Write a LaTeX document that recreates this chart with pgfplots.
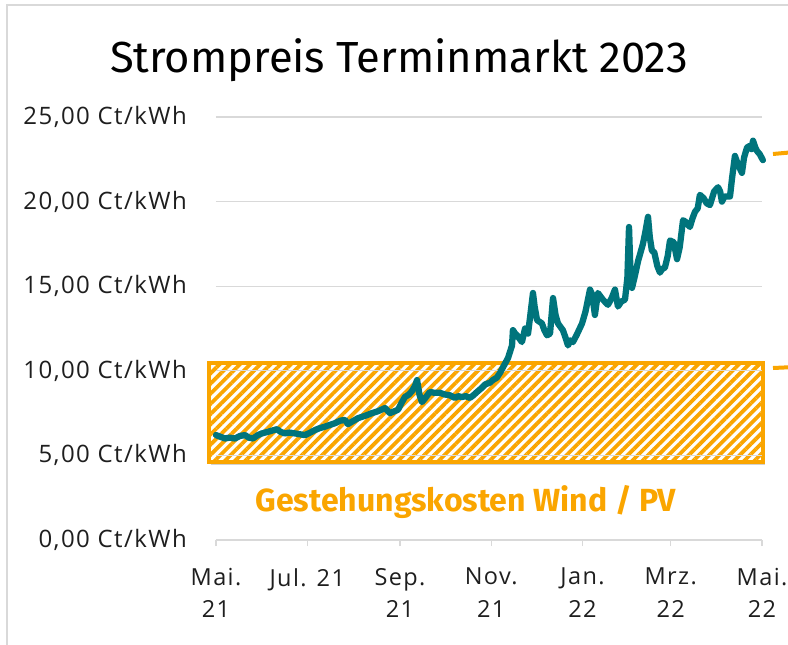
\documentclass[border=0pt]{standalone}
\usepackage{pgfplots}
\pgfplotsset{compat=1.18}
\usepackage{fontspec}
\setmainfont{Open Sans}
\newfontfamily\titlefont{Fira Sans}
\newfontfamily\lblfont[LetterSpace=6]{Open Sans}
\usetikzlibrary{patterns.meta}
\definecolor{gk}{RGB}{250,165,0}
\definecolor{teal1}{RGB}{0,116,124}
\definecolor{gridc}{RGB}{217,217,217}
\definecolor{txt}{RGB}{30,30,30}

\pgfplotstableread{
d v
0 6.2
3 6.1
6 6.0
9 6.05
12.7 6.0
16 6.15
19.4 6.2
22 6.05
24.7 6.0
28 6.2
30.7 6.3
35 6.4
40.8 6.55
43 6.4
46.1 6.3
49 6.35
52.8 6.3
56 6.25
59.5 6.2
63 6.35
66.2 6.5
69 6.6
72.9 6.7
76 6.8
79.5 6.9
83 7.05
86.2 7.1
88.2 6.85
91 7.0
94.9 7.2
100 7.35
104.3 7.5
108 7.6
113 7.8
116.3 7.5
119 7.6
121.7 7.7
124 8.1
126.3 8.45
129 8.6
131 8.8
133 9.1
134.4 9.45
136 8.6
137.7 8.15
140 8.4
143 8.75
146 8.7
149.7 8.7
153 8.6
156.4 8.55
159.8 8.4
162 8.5
164.4 8.45
167 8.5
169.8 8.4
172 8.55
174.5 8.75
177.8 9.0
180 9.2
183.2 9.3
185 9.45
187.8 9.6
190 9.9
191.8 10.2
195.2 10.75
197.9 11.5
198.5 12.4
200 12.2
201.2 12.1
204.5 11.7
206.6 12.5
208.6 12.2
210 13.2
211.9 14.6
213 13.8
214.6 13.0
217.9 12.8
219.5 12.4
221.3 12.1
223.3 12.2
225.3 14.3
227 13.3
228.6 12.8
231.9 12.4
233.5 12.0
235.3 11.5
237 11.8
238.6 11.7
241 12.1
244.7 12.8
247 13.5
250 14.8
251.5 14.5
253.3 13.3
255.3 14.6
258.7 14.2
262 13.9
264.5 14.3
266.7 14.8
268.7 13.8
271 14.1
273.4 14.2
275 15.5
276.1 18.5
277.2 15.5
278.1 14.9
280 15.6
282.2 16.5
283.5 16.9
285.4 17.5
287 18.2
288.8 19.1
290 17.9
291.4 17.1
293 17.0
295 16.2
296.8 15.8
298 16.0
300.1 16.1
302 16.8
303.5 17.7
306 17.6
308.2 16.6
310 17.3
312.2 18.9
314 18.8
316.8 18.5
318.5 19.0
320.2 19.4
322 19.6
323.5 20.4
326 20.2
328 19.9
330.2 19.8
333 20.6
335.6 20.85
337 20.6
338.2 20.0
340 20.3
343.6 20.3
345 21.4
346.9 22.7
348.5 22.3
350 22.0
351.6 21.7
353 22.6
355 23.2
357 23.3
358 23.1
359 23.6
360.5 23.2
361.6 23.0
363.5 22.8
365.6 22.45
}\preistab

\pgfplotstableread{
d v
-5 4.6
365.5 4.6
365.5 10.45
-5 10.45
}\gkboxtab

\pgfplotstableread{
d v
-3.5 4.42
367 4.42
367 10.3
-3.5 10.3
}\gkshadowtab

\begin{document}
\begin{tikzpicture}
\path[use as bounding box] (0pt,0pt) rectangle (788pt,-645pt);
\draw[gridc, line width=1.5pt] (7pt,-650pt) -- (7pt,-5pt) -- (800pt,-5pt);
\node[font=\titlefont\fontsize{43.5}{48}\selectfont, text=black, anchor=base] at (399pt,-72pt) {Strompreis Terminmarkt 2023};
\begin{axis}[
  at={(216pt,-540pt)}, anchor=south west,
  scale only axis, width=546pt, height=423pt,
  xmin=0, xmax=365, ymin=0, ymax=25,
  clip=false,
  separate axis lines,
  axis x line*=bottom, axis y line*=left,
  x axis line style={draw=gridc, line width=1.3pt, -},
  y axis line style={draw=none},
  xtick={0,61,123,184,245,304,365},
  xticklabels={{Mai.\\21},{Jul. 21},{Sep.\\21},{Nov.\\21},{Jan.\\22},{Mrz.\\22},{Mai.\\22}},
  xtick align=outside, ytick align=inside,
  major tick length=6pt,
  xtick style={draw=gridc, line width=1.3pt},
  ytick style={draw=none},
  ytick={0,5,10,15,20,25},
  yticklabels={{0,00 Ct/kWh},{5,00 Ct/kWh},{10,00 Ct/kWh},{15,00 Ct/kWh},{20,00 Ct/kWh},{25,00 Ct/kWh}},
  ymajorgrids, grid style={draw=gridc, line width=1.3pt},
  yticklabel style={font=\lblfont\fontsize{24}{28}\selectfont, text=txt, anchor=east, inner sep=0pt, xshift=-29pt},
  xticklabel style={font=\lblfont\fontsize{23.5}{32.5}\selectfont, text=txt, align=center, anchor=north, inner sep=0pt, yshift=-22pt},
]
\addplot[fill=black, fill opacity=0.18, draw=none] table[x=d,y=v] {\gkshadowtab} -- cycle;
\addplot[fill=white, draw=none] table[x=d,y=v] {\gkboxtab} -- cycle;
\addplot[draw=gk, line width=4pt, pattern={Lines[angle=45,distance=7.2pt,line width=3.8pt]}, pattern color=gk] table[x=d,y=v] {\gkboxtab} -- cycle;
\addplot[gridc, line width=1.3pt] coordinates {(0,5) (365,5)};
\addplot[gridc, line width=1.3pt] coordinates {(0,10) (365,10)};
\addplot[teal1, line width=6.3pt, line join=round, line cap=round] table[x=d,y=v] {\preistab};
\node[font=\titlefont\bfseries\fontsize{32}{38}\selectfont, text=gk, anchor=base] at (axis cs:167,1.71) {Gestehungskosten Wind / PV};
\end{axis}
\draw[gk, line width=4pt] (773pt,-154pt) -- (795pt,-152pt);
\draw[gk, line width=4pt] (773pt,-368pt) -- (795pt,-367pt);
\end{tikzpicture}
\end{document}
